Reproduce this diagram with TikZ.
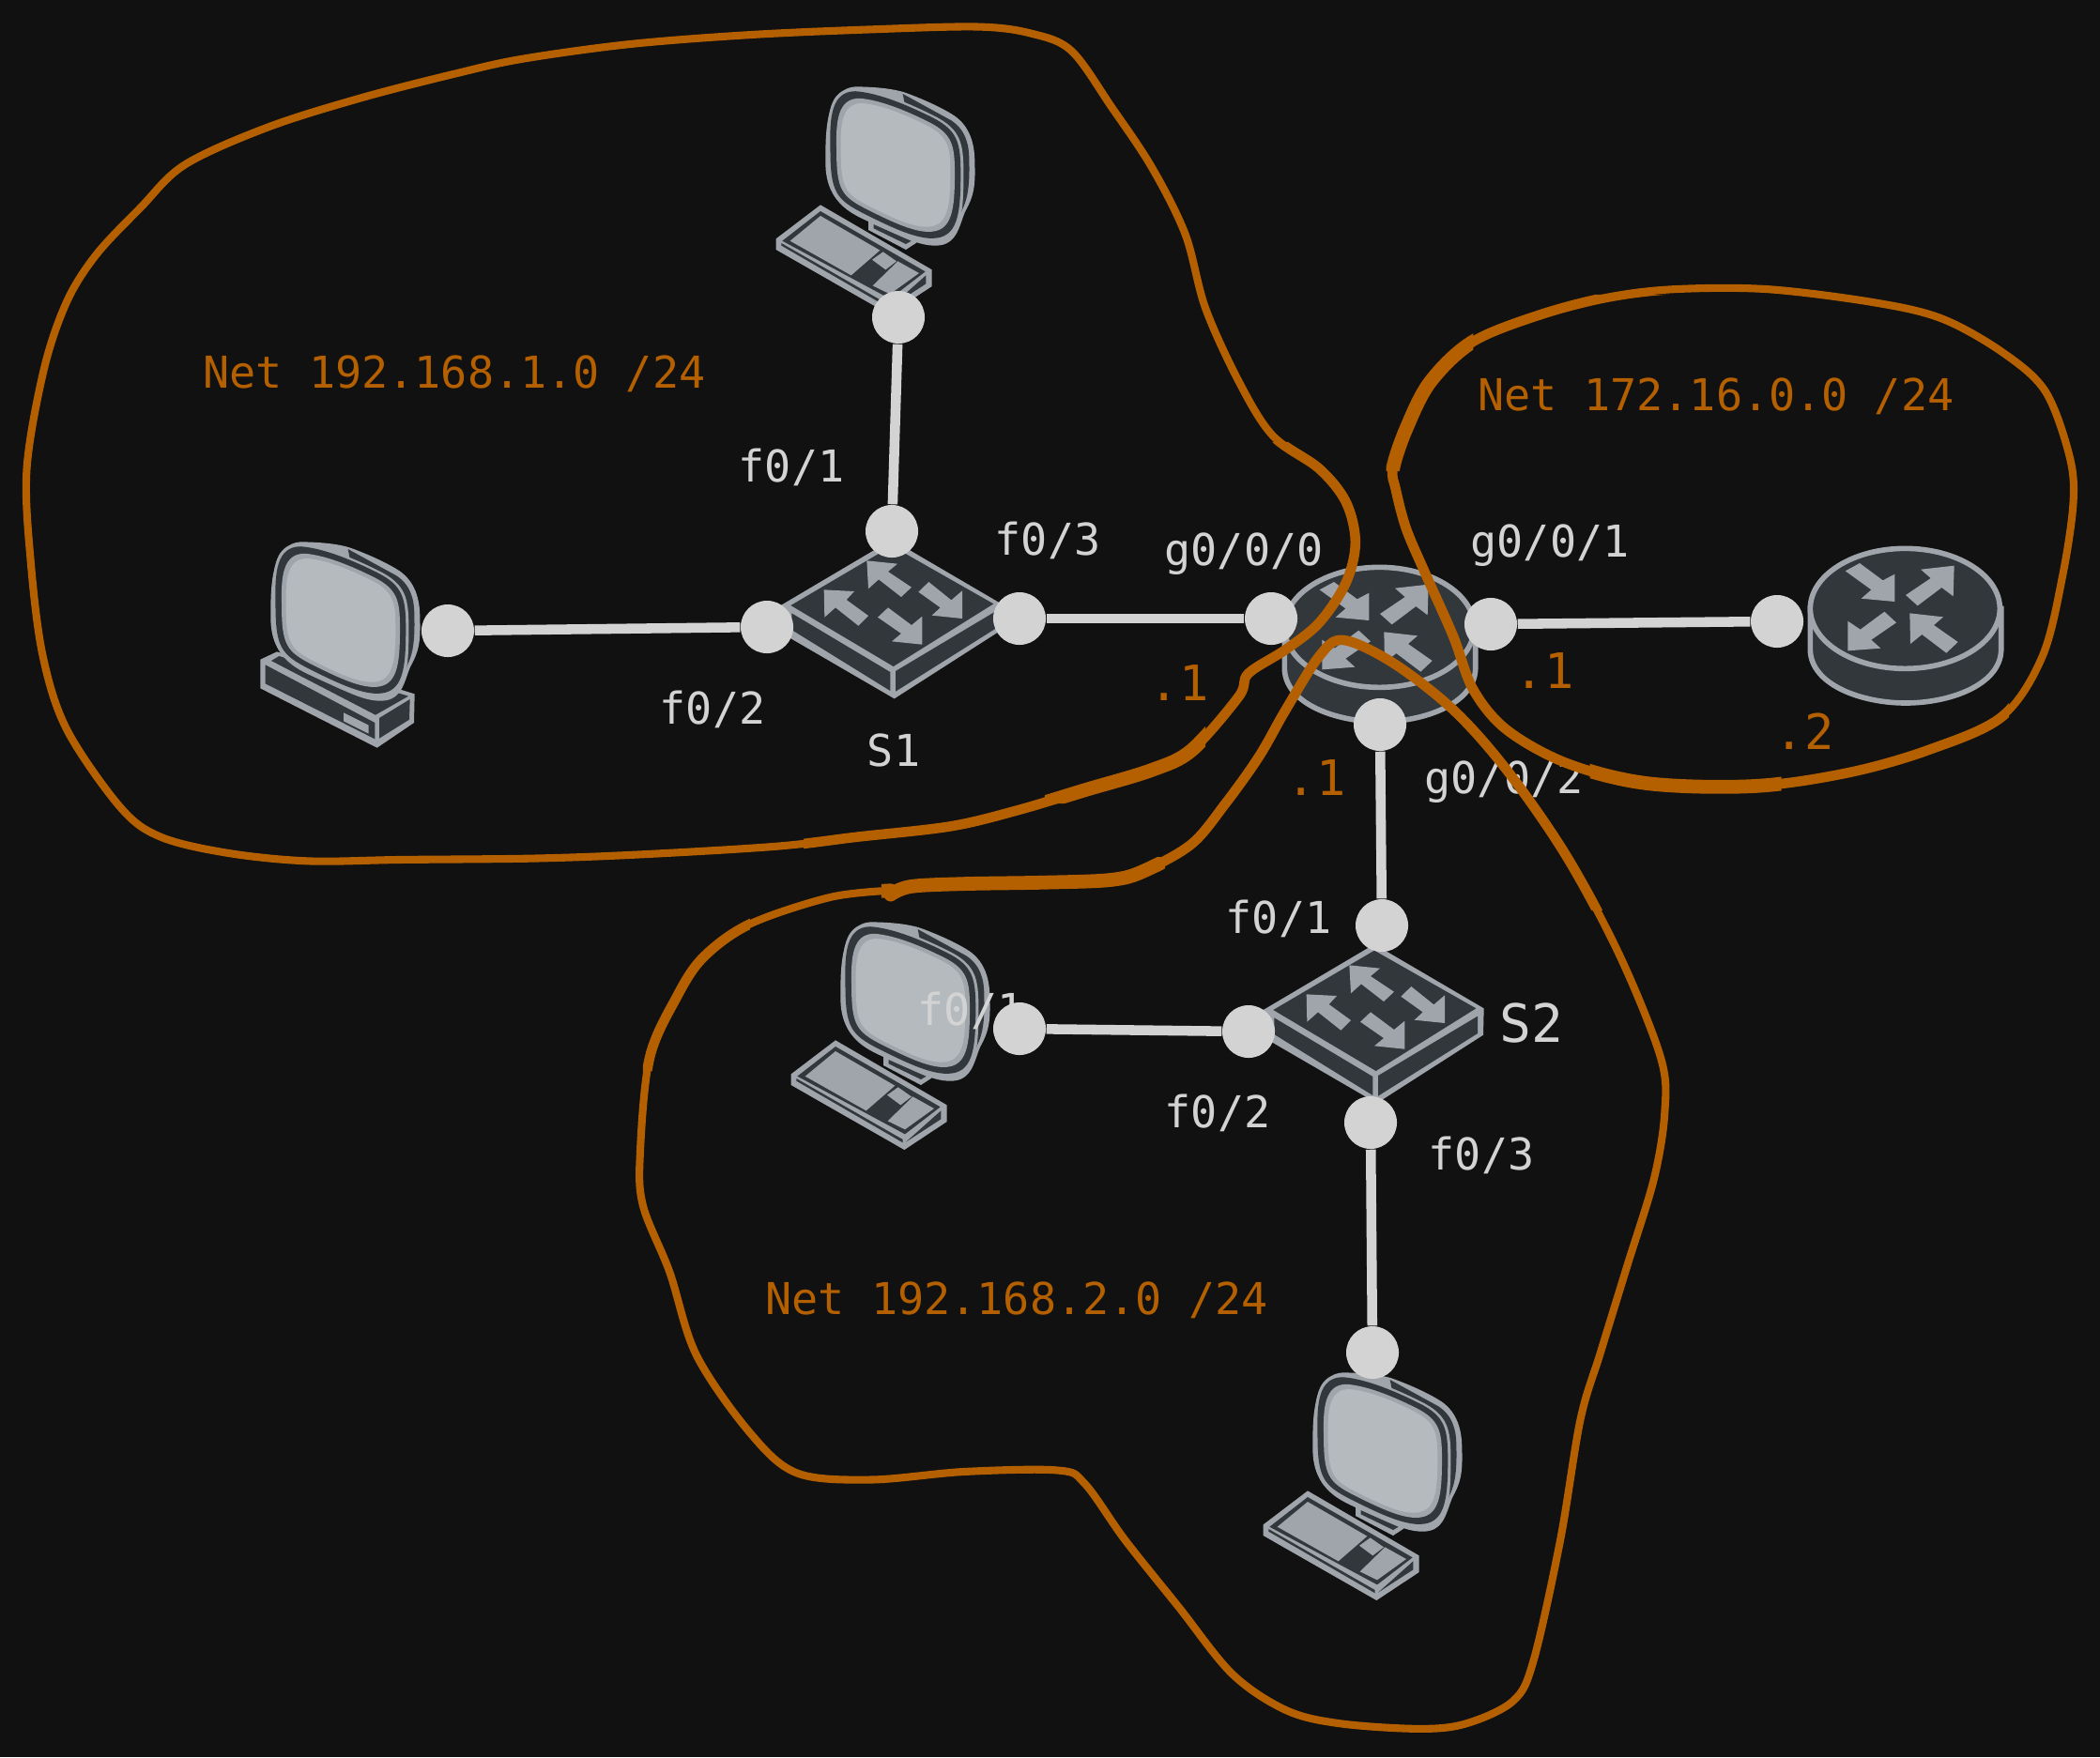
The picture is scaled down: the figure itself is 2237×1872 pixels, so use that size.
\documentclass[tikz,border=0pt]{standalone}
\usepackage{xcolor}
\usepackage{fontspec}
\setmainfont{DejaVu Sans Mono}
\usepackage{tikz}
\usetikzlibrary{
  arrows.meta,
  positioning,
  calc
}
\definecolor{nbBack}{HTML}{111111}
\definecolor{nbIcon}{HTML}{A0A5AC}
\definecolor{nbDark}{HTML}{32373B}
\definecolor{nbScreen}{HTML}{B4BABE}
\definecolor{nbPort}{HTML}{D3D3D3}
\definecolor{nbNet}{HTML}{B56000}
\newcommand{\facepath}{(347,300) .. controls (345,220) and (350,150) .. (415,150)
  .. controls (480,155) and (560,190) .. (620,220)
  .. controls (690,255) and (697,290) .. (697,370)
  .. controls (697,480) and (690,545) .. (620,545)
  .. controls (570,545) and (500,510) .. (440,480)
  .. controls (360,440) and (347,420) .. (347,300) -- cycle}
\newcommand{\monitorbody}{%
  \fill[nbIcon] (298,340) .. controls (298,250) and (295,97) .. (400,97)
    .. controls (440,98) and (500,100) .. (550,115)
    .. controls (620,140) and (680,170) .. (710,190)
    .. controls (760,225) and (775,280) .. (775,340)
    .. controls (778,420) and (770,450) .. (745,495)
    .. controls (725,540) and (720,605) .. (650,605)
    .. controls (600,605) and (560,585) .. (450,535)
    .. controls (400,510) and (298,480) .. (298,340) -- cycle;
  \fill[nbDark] (545,120) -- (700,205) .. controls (745,235) and (757,280) .. (757,330)
    .. controls (760,420) and (750,460) .. (735,490)
    .. controls (715,540) and (710,590) .. (640,590) -- cycle;
  \fill[nbIcon, scale around={1.24:(521,347)}] \facepath;
  \fill[nbDark, scale around={1.19:(524,352)}] \facepath;
  \fill[nbIcon, scale around={1.08:(521,347)}] \facepath;
  \fill[nbScreen] \facepath;
}
\newcommand{\netApath}{plot[smooth cycle, tension=0.55] coordinates {(120,625) (90,603) (50,545) (32,490) (23,420) (20,350) (33,275) (50,225) (72,190) (105,155) (138,123) (200,95) (270,73) (340,55) (390,44) (470,33) (560,26) (650,22) (730,20) (770,25) (800,38) (830,80) (860,125) (885,175) (900,230) (925,285) (950,325) (985,350) (1005,375) (1012,405) (1005,435) (985,465) (960,485) (932,503) (925,520) (890,560) (860,575) (810,590) (760,605) (710,617) (640,625) (580,632) (480,638) (400,641) (300,642) (230,643) (170,637)}}
\newcommand{\netBpath}{plot[smooth cycle, tension=0.55] coordinates {(1040,350) (1050,320) (1068,285) (1100,255) (1150,235) (1200,222) (1250,216) (1320,216) (1400,226) (1450,238) (1495,263) (1527,292) (1545,340) (1548,375) (1540,430) (1525,490) (1495,535) (1440,560) (1380,577) (1310,587) (1230,585) (1170,570) (1125,545) (1100,515) (1085,475) (1065,430) (1050,395) (1042,365)}}
\newcommand{\netCpath}{plot[smooth, tension=0.55] coordinates {(665,668) (680,662) (720,660) (780,659) (830,657) (855,650) (890,630) (915,600) (940,565) (960,530) (985,490) (1003,478) (1040,495) (1085,530) (1125,575) (1170,640) (1210,715) (1240,790) (1243,830) (1235,880) (1215,945) (1195,1010) (1180,1060) (1165,1150) (1145,1240) (1130,1270) (1095,1287) (1060,1291) (1000,1287) (960,1277) (920,1250) (880,1200) (840,1150) (810,1108) (790,1098) (720,1099) (650,1105) (595,1100) (560,1070) (520,1012) (500,950) (480,900) (478,860) (485,790) (505,745) (525,715) (560,690) (620,670) (665,665)}}
\tikzset{
  port/.style={circle, fill=nbPort, minimum size=5.6mm, inner sep=0pt},
  portlabel/.style={font=\fontsize{13.3}{16}\selectfont, text=nbPort, inner sep=0pt},
  netlabel/.style={font=\fontsize{13.3}{16}\selectfont, text=nbNet, inner sep=0pt},
  hostlabel/.style={font=\fontsize{14.8}{18}\selectfont, text=nbNet, inner sep=0pt},
  link/.style={line width=3pt, nbPort},
  netline/.style={line width=2.3pt, nbNet, line join=round, line cap=round},
  netmid/.style={netline, line width=3pt},
  netthick/.style={netline, line width=4.2pt},
  pics/pcdesk/.style={code={
    \begin{scope}[scale=1/3]
      % stand
      \fill[nbIcon] (435,520) -- (435,555) -- (555,618) -- (590,595) -- (590,560) -- cycle;
      \fill[nbDark] (452,537) -- (452,550) -- (555,600) -- (572,590) -- cycle;
      \monitorbody
      % keyboard
      \fill[nbIcon] (140,583) -- (282,475) -- (638,682) -- (638,735) -- (502,825) -- (140,618) -- cycle;
      \fill[nbDark] (160,590) -- (282,495) -- (617,688) -- (504,775) -- cycle;
      \fill[nbDark] (157,597) -- (497,792) -- (497,802) -- (157,605) -- cycle;
      \fill[nbDark] (507,800) -- (619,700) -- (619,727) -- cycle;
      \fill[nbIcon] (185,590) -- (282,510) -- (472,620) -- (380,700) -- cycle;
      \fill[nbIcon] (447,650) -- (482,625) -- (525,655) -- (490,682) -- cycle;
      \fill[nbIcon] (449,733) -- (529,655) -- (597,693) -- (504,760) -- cycle;
    \end{scope}
  }},
  pics/pctower/.style={code={
    \begin{scope}[scale=1/3]
      % base
      \fill[nbIcon] (265,473) -- (318,448) -- (758,583) -- (756,675) -- (638,755) -- (265,565) -- cycle;
      \fill[nbDark] (281,490) -- (631,675) -- (631,727) -- (281,550) -- cycle;
      \fill[nbDark] (645,660) -- (743,600) -- (741,665) -- (645,725) -- cycle;
      \fill[nbDark] (300,477) -- (325,462) -- (738,590) -- (633,650) -- cycle;
      \fill[nbIcon] (531,643) -- (611,683) -- (611,710) -- (531,670) -- cycle;
      \monitorbody
    \end{scope}
  }},
  pics/switchbox/.style={code={
    \begin{scope}[scale=1/3]
      \fill[nbIcon] (65,255) -- (420,45) -- (770,250) -- (768,335) -- (428,553) -- (65,342) -- cycle;
      \fill[nbDark] (97,255) -- (420,65) -- (745,250) -- (425,450) -- cycle;
      \fill[nbDark] (100,280) -- (415,468) -- (415,528) -- (100,333) -- cycle;
      \fill[nbDark] (432,465) -- (750,275) -- (750,330) -- (432,530) -- cycle;
      % arrows
      \fill[nbIcon] (340,112) -- (438,122) -- (408,147) -- (483,197) -- (450,228) -- (378,172) -- (345,202) -- cycle;
      \fill[nbIcon] (203,205) -- (300,210) -- (275,237) -- (345,288) -- (313,320) -- (240,262) -- (205,293) -- cycle;
      \fill[nbIcon] (645,297) -- (548,287) -- (575,262) -- (505,212) -- (538,180) -- (610,238) -- (645,208) -- cycle;
      \fill[nbIcon] (517,380) -- (420,370) -- (450,345) -- (375,293) -- (408,262) -- (483,318) -- (517,290) -- cycle;
    \end{scope}
  }},
  pics/routerdisc/.style={code={
    \begin{scope}[scale=1/3]
      \filldraw[fill=nbDark, draw=nbIcon, line width=1.6pt] (85,265) -- (85,400)
        .. controls (90,510) and (250,567) .. (390,567)
        .. controls (530,567) and (690,510) .. (695,400) -- (695,265) -- cycle;
      \filldraw[fill=nbDark, draw=nbIcon, line width=1.6pt] (388,265) ellipse [x radius=303, y radius=192];
      % arrows
      \fill[nbIcon] (355,243) -- (248,233) -- (280,205) -- (197,145) -- (243,120) -- (317,175) -- (355,155) -- cycle;
      \fill[nbIcon] (545,128) -- (438,140) -- (470,168) -- (390,222) -- (428,256) -- (505,198) -- (542,226) -- cycle;
      \fill[nbIcon] (205,400) -- (310,392) -- (280,365) -- (360,310) -- (322,275) -- (245,332) -- (205,305) -- cycle;
      \fill[nbIcon] (403,280) -- (510,292) -- (480,318) -- (557,372) -- (520,407) -- (442,348) -- (405,378) -- cycle;
    \end{scope}
  }}
}

\begin{document}
\begin{tikzpicture}[x=0.01cm, y=-0.01cm]
  \useasboundingbox (0,0) rectangle (2237,1872);
  \fill[nbBack] (0,0) rectangle (2237,1872);
  % devices
  \pic at (780,60) {pcdesk};
  \pic at (189,545) {pctower};
  \pic at (796,950) {pcdesk};
  \pic at (1299,1430) {pcdesk};
  \pic at (810,560) {switchbox};
  \pic at (1324,991) {switchbox};
  \pic at (1340,580) {routerdisc};
  \pic at (1900,560) {routerdisc};
  % ports
  \node[port] (pcA) at (957,338) {};
  \node[port] (pcB) at (477,672) {};
  \node[port] (pcC) at (1086,1096) {};
  \node[port] (pcD) at (1462,1441) {};
  \node[port] (sAtop) at (950,566) {};
  \node[port] (sAleft) at (817,668) {};
  \node[port] (sAright) at (1086,659) {};
  \node[port] (rAleft) at (1354,659) {};
  \node[port] (rAright) at (1588,665) {};
  \node[port] (rAbottom) at (1470,772) {};
  \node[port] (rB) at (1893,662) {};
  \node[port] (sBtop) at (1472,986) {};
  \node[port] (sBleft) at (1330,1099) {};
  \node[port] (sBbottom) at (1460,1196) {};
  % links
  \draw[link] (pcA) -- (sAtop);
  \draw[link] (pcB) -- (sAleft);
  \draw[link] (sAright) -- (rAleft);
  \draw[link] (rAright) -- (rB);
  \draw[link] (rAbottom) -- (sBtop);
  \draw[link] (pcC) -- (sBleft);
  \draw[link] (sBbottom) -- (pcD);
  % labels
  \node[portlabel] (fAa) at (843,498) {f0/1};
  \node[portlabel] (fAb) at (1116,576) {f0/3};
  \node[portlabel] (gAa) at (1325,590) {g0/0/0};
  \node[portlabel] (gAb) at (1651,581) {g0/0/1};
  \node[portlabel] (fAc) at (759,756) {f0/2};
  \node[portlabel] (nameA) at (952,799) {S1};
  \node[portlabel] (gAc) at (1602,833) {g0/0/2};
  \node[portlabel] (fBa) at (1362,979) {f0/1};
  \node[portlabel, font=\fontsize{16}{19}\selectfont] (nameB) at (1631,1090) {S2};
  \node[portlabel] (fBd) at (1034,1077) {f0/1};
  \node[portlabel] (fBb) at (1297,1186) {f0/2};
  \node[portlabel] (fBc) at (1578,1231) {f0/3};
  \node[netlabel] (netA) at (484,398) {Net 192.168.1.0 /24};
  \node[netlabel] (netB) at (1828,422) {Net 172.16.0.0 /24};
  \node[netlabel] (netC) at (1083,1385) {Net 192.168.2.0 /24};
  \node[hostlabel] (hostA) at (1256,728) {.1};
  \node[hostlabel] (hostB) at (1645,715) {.1};
  \node[hostlabel] (hostC) at (1402,829) {.1};
  \node[hostlabel] (hostD) at (1922,779) {.2};
  % network outlines
  \begin{scope}[scale=1.4267]
    \draw[netline] \netApath;
    \draw[netline] \netBpath;
    \draw[netline] \netCpath;
    % wider stretches of the pen
    \begin{scope}
      \clip (600,330) rectangle (1030,660) (1035,220) rectangle (1250,520) (1080,480) rectangle (1500,600) (860,470) rectangle (1200,680) (480,680) rectangle (560,800);
      \draw[netmid] \netApath;
      \draw[netmid] \netBpath;
      \draw[netmid] \netCpath;
    \end{scope}
    \begin{scope}
      \clip (780,530) rectangle (900,600) (1035,245) rectangle (1100,352) (1187,560) rectangle (1330,600) (658,640) rectangle (870,680);
      \draw[netthick] \netApath;
      \draw[netthick] \netBpath;
      \draw[netthick] \netCpath;
    \end{scope}
  \end{scope}
\end{tikzpicture}
\end{document}
